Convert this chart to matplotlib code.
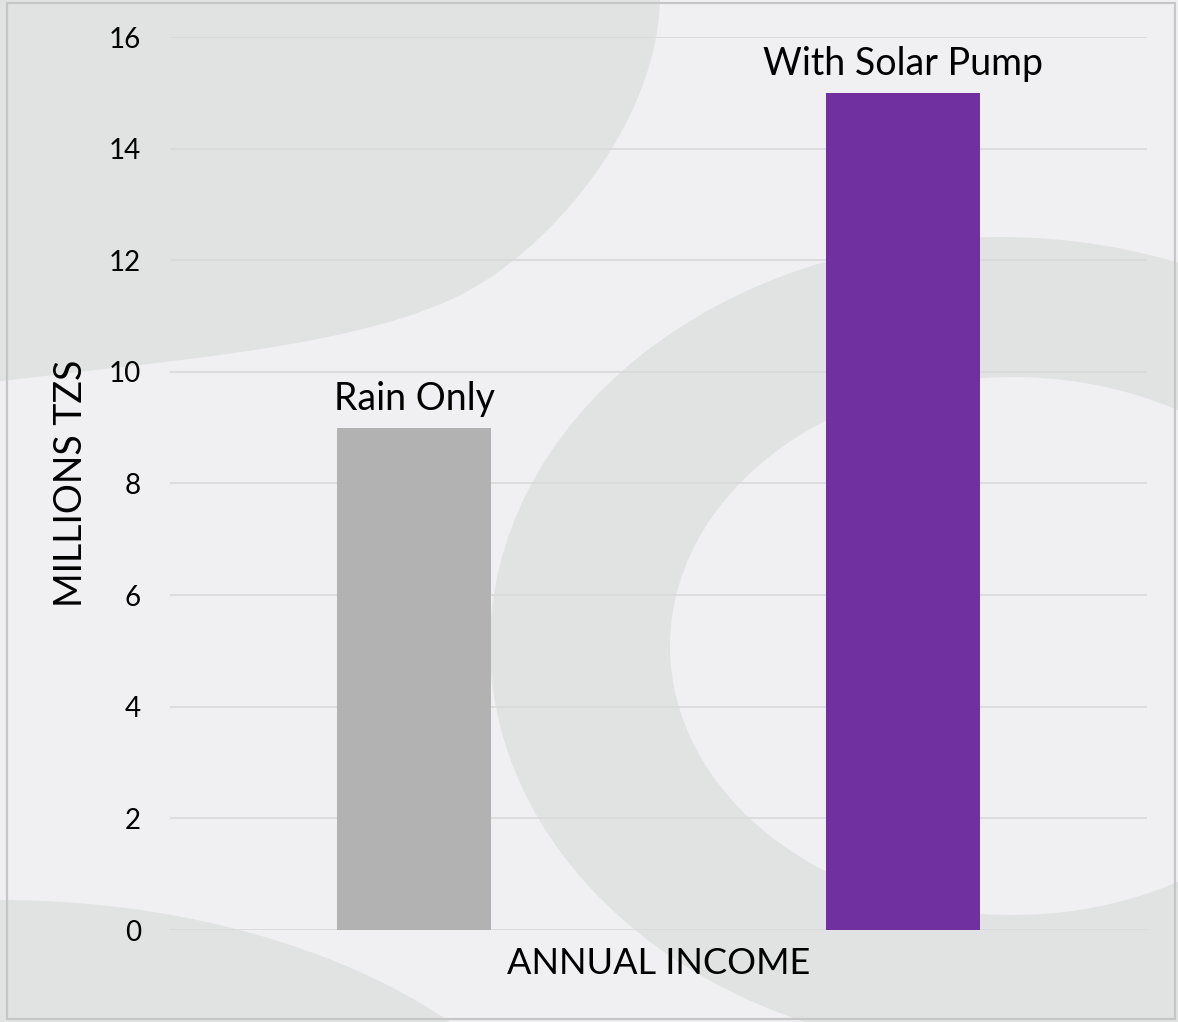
import matplotlib
matplotlib.use("Agg")
import matplotlib.pyplot as plt
from matplotlib.patches import Ellipse, PathPatch, Rectangle
from matplotlib.path import Path

categories = ["Rain Only", "With Solar Pump"]
income = [9, 15]          # millions TZS
bar_colors = ["#b2b2b2", "#7030a0"]
yticks = [0, 2, 4, 6, 8, 10, 12, 14, 16]

W, H = 1178, 1022
BG = "#f0f0f2"
SHAPE = "#e1e2e2"

plt.rcParams["font.family"] = ["Lato", "DejaVu Sans"]

fig = plt.figure(figsize=(W / 100, H / 100), dpi=100)
fig.patch.set_facecolor(BG)

# decorative background, drawn in pixel coords
bg = fig.add_axes([0, 0, 1, 1], zorder=0)
bg.set_xlim(0, W); bg.set_ylim(H, 0); bg.axis("off")
blob = Path(
    [(-5, 382), (150, 362), (340, 350), (450, 300),
     (550, 255), (660, 120), (660, -5),
     (-5, -5), (-5, 382)],
    [Path.MOVETO, Path.CURVE4, Path.CURVE4, Path.CURVE4,
     Path.CURVE4, Path.CURVE4, Path.CURVE4,
     Path.LINETO, Path.CLOSEPOLY])
bg.add_patch(PathPatch(blob, fc=SHAPE, ec="none"))
bg.add_patch(Ellipse((1000, 645), 1020, 816, fc=SHAPE, ec="none"))
bg.add_patch(Ellipse((1013, 646), 686, 538, fc=BG, ec="none"))
bg.add_patch(Ellipse((0, 1260), 1200, 720, fc=SHAPE, ec="none"))
bg.add_patch(Rectangle((7, 3), 1168, 1016, fc="none", ec="#c6c6c6", lw=1.6))

ax = fig.add_axes([170 / W, 1 - 930 / H, 977 / W, 893 / H], zorder=1)
ax.set_facecolor("none")
x = range(len(categories))
bars = ax.bar(x, income, width=0.315, color=bar_colors, zorder=3)
for b, name in zip(bars, categories):
    ax.annotate(name, (b.get_x() + b.get_width() / 2, b.get_height()),
                xytext=(0, 13), textcoords="offset points",
                ha="center", va="baseline", fontsize=27, color="black")

ax.set_xlim(-0.5, 1.5)
ax.set_ylim(0, 16)
ax.set_yticks(yticks)
ax.set_xticks([])
ax.tick_params(axis="y", length=0, pad=21, labelsize=20, labelcolor="black")
ax.grid(axis="y", color="#d9d9d9", lw=1.2, zorder=1)
for s in ax.spines.values():
    s.set_visible(False)

ax.set_ylabel("MILLIONS TZS", fontsize=27, va="center")
ax.yaxis.set_label_coords(-0.1013, 0.5)
ax.set_xlabel("ANNUAL INCOME", fontsize=26, va="center")
ax.xaxis.set_label_coords(0.5, -0.038)

fig.savefig("out.png", dpi=100, facecolor=fig.get_facecolor())
